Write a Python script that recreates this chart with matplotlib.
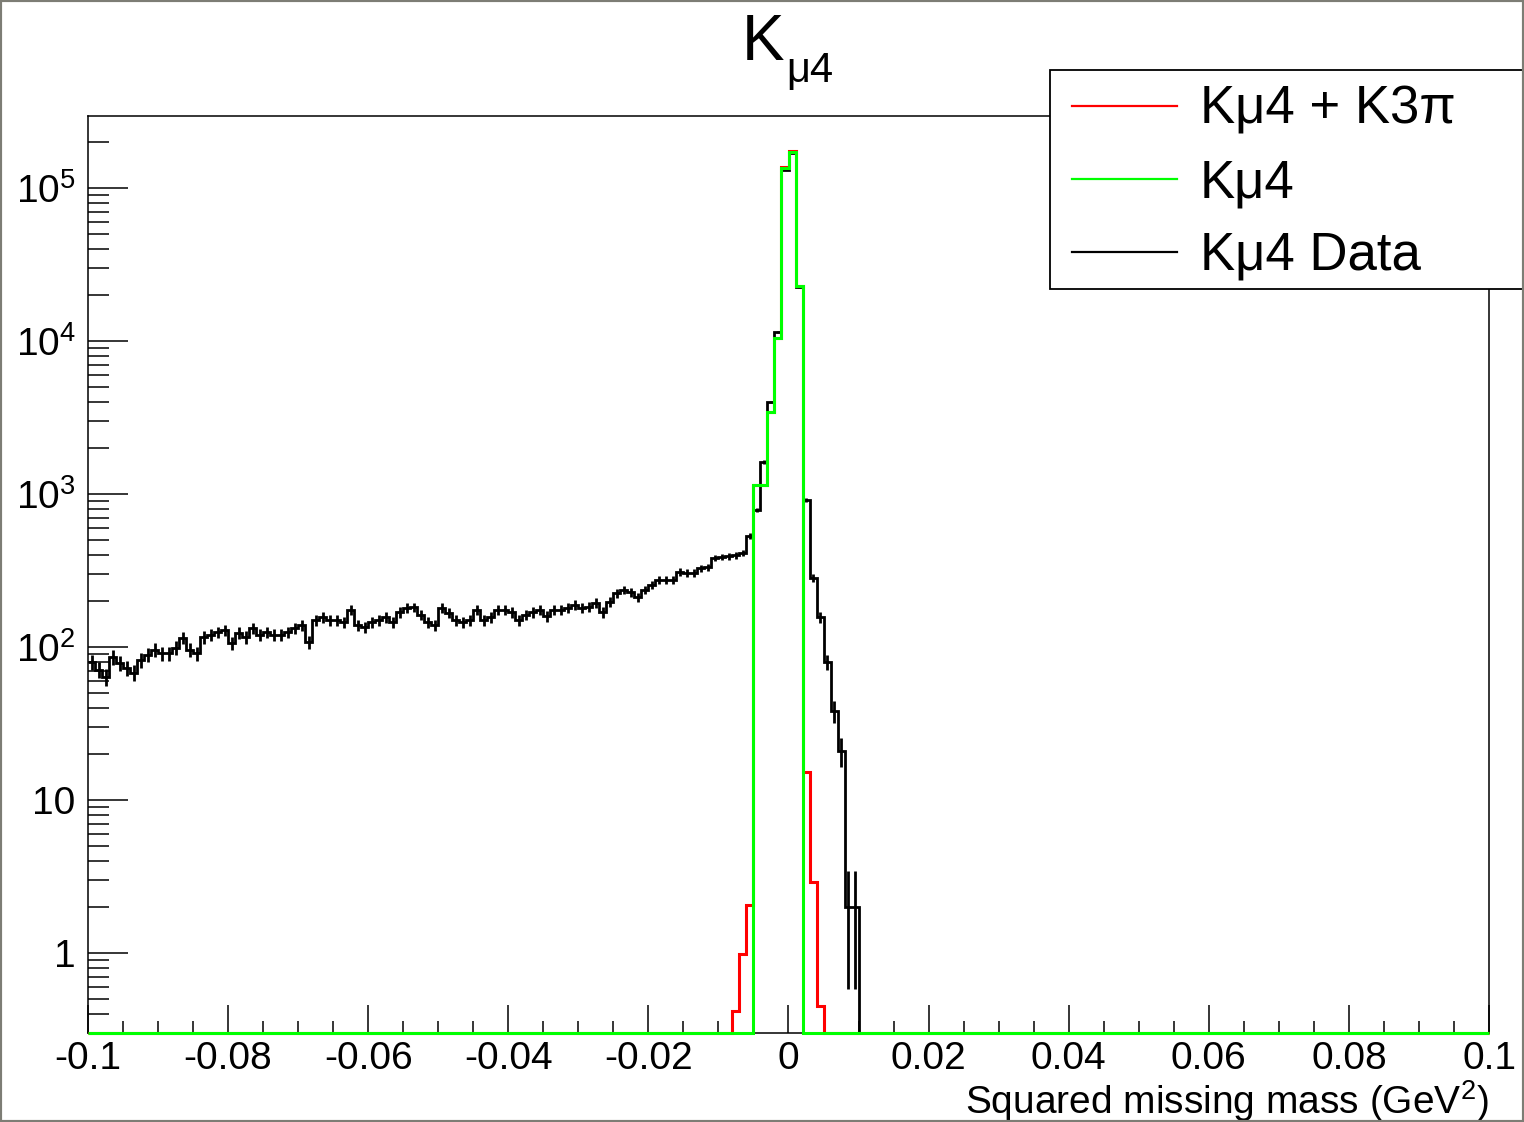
import numpy as np
import matplotlib
matplotlib.use("Agg")
from matplotlib import pyplot as plt
from matplotlib.patches import Rectangle
from matplotlib.lines import Line2D
from matplotlib.ticker import (FixedLocator, FixedFormatter, LogLocator,
                               NullFormatter, MultipleLocator, FuncFormatter)

plt.rcParams["font.family"] = ["Liberation Sans", "DejaVu Sans"]
plt.rcParams["mathtext.fontset"] = "custom"
plt.rcParams["mathtext.rm"] = "Liberation Sans"
plt.rcParams["mathtext.it"] = "Liberation Sans:italic"

# histogram binning: 200 bins of 0.001 GeV^2
X_MIN, X_MAX, N_BINS = -0.1, 0.1, 200
Y_MIN, Y_MAX = 0.3, 2.96e5

# data counts, first bin starts at -0.1
data_start = -0.1
data_counts = [
    80, 71, 64, 86, 79, 73, 68, 82, 89, 96,
    91, 91, 99, 115, 96, 91, 116, 120, 125, 129,
    106, 124, 116, 133, 120, 125, 120, 120, 125, 133,
    139, 108, 150, 157, 150, 150, 146, 175, 139, 135,
    146, 150, 157, 146, 169, 180, 182, 162, 146, 139,
    180, 167, 150, 146, 150, 175, 150, 157, 175, 175,
    169, 150, 162, 169, 175, 159, 175, 175, 180, 188,
    180, 183, 194, 169, 197, 225, 236, 229, 212, 236,
    254, 274, 274, 274, 309, 305, 305, 328, 333, 382,
    388, 393, 399, 411, 531, 786, 1620, 3990, 11450, 131000,
    169000, 22500, 914, 282, 157, 80, 38, 21, 2, 2,
]

# MC histograms, first bin starts at -0.008
mc_start = -0.008
kmu4_k3pi = [0.42, 0.98, 2.05, 1150, 1150, 3440, 10500, 137000, 175000,
             22800, 15.2, 2.9, 0.45]
kmu4 = [0, 0, 0, 1150, 1150, 3440, 10500, 135000, 172000, 22800, 0, 0, 0]

legend_labels = ["Kμ4 + K3π", "Kμ4", "Kμ4 Data"]

y_ticks = [1, 10, 1e2, 1e3, 1e4, 1e5]
y_tick_labels = ["1", "10", r"$\mathregular{10^{2}}$", r"$\mathregular{10^{3}}$",
                 r"$\mathregular{10^{4}}$", r"$\mathregular{10^{5}}$"]

edges = np.linspace(X_MIN, X_MAX, N_BINS + 1)
bin_w = (X_MAX - X_MIN) / N_BINS
centers = 0.5 * (edges[:-1] + edges[1:])


def full_hist(values, start):
    arr = np.zeros(N_BINS)
    i0 = int(round((start - X_MIN) / bin_w))
    arr[i0:i0 + len(values)] = values
    return arr


data = full_hist(data_counts, data_start)
h_red = full_hist(kmu4_k3pi, mc_start)
h_green = full_hist(kmu4, mc_start)


def floor(v):
    # empty bins are drawn on the lower frame edge, like ROOT does
    return np.where(v > 0, v, Y_MIN)


def x_label_fmt(v, pos):
    v = round(v, 3) + 0.0
    return "0" if v == 0 else "%g" % v


W, H = 1524, 1122
fig = plt.figure(figsize=(W / 100, H / 100), dpi=100)
ax = fig.add_axes([88 / W, 1 - 1033 / H, (1489 - 88) / W, (1033 - 116) / H])

ax.stairs(floor(data), edges, baseline=None, color="black", lw=2.0, zorder=2)
nz = data > 0
ax.errorbar(centers[nz], data[nz], yerr=np.sqrt(data[nz]), fmt="none",
            ecolor="black", elinewidth=2.0, capsize=0, zorder=2)
ax.stairs(floor(h_red), edges, baseline=None, color="#ff0000", lw=2.2,
          zorder=3, clip_on=False)
ax.stairs(floor(h_green), edges, baseline=None, color="#00ff00", lw=2.2,
          zorder=4, clip_on=False)

ax.set_yscale("log")
ax.set_xlim(X_MIN, X_MAX)
ax.set_ylim(Y_MIN, Y_MAX)

ax.yaxis.set_major_locator(FixedLocator(y_ticks))
ax.yaxis.set_major_formatter(FixedFormatter(y_tick_labels))
ax.yaxis.set_minor_locator(LogLocator(base=10, subs=np.arange(2, 10)))
ax.yaxis.set_minor_formatter(NullFormatter())

ax.xaxis.set_major_locator(MultipleLocator(0.02))
ax.xaxis.set_minor_locator(MultipleLocator(0.005))
ax.xaxis.set_major_formatter(FuncFormatter(x_label_fmt))

ax.tick_params(axis="both", which="both", direction="in", width=1.1,
               top=False, right=False)
ax.tick_params(axis="y", which="major", length=29, pad=9, labelsize=28)
ax.tick_params(axis="y", which="minor", length=15)
ax.tick_params(axis="x", which="major", length=20, pad=6, labelsize=28)
ax.tick_params(axis="x", which="minor", length=8.6)
for s in ax.spines.values():
    s.set_linewidth(1.1)

# axis title sits right-aligned under the tick labels
fig.text(1489 / W, 1 - 1114 / H, r"Squared missing mass (GeV$\mathregular{^{2}}$)",
         fontsize=28, ha="right", va="baseline")

# title K with a low subscript, as ROOT draws it
fig.text(784 / W, 1 - 60 / H, "K", ha="right", va="baseline", fontsize=46)
fig.text(786 / W, 1 - 82 / H, "μ4", ha="left", va="baseline", fontsize=30)

# legend box, runs past the right canvas edge as in the original
fig.patches.append(Rectangle((1050 / W, 1 - 289 / H), (W + 20 - 1050) / W,
                             (289 - 70) / H, transform=fig.transFigure,
                             facecolor="white", edgecolor="black", lw=1.3,
                             zorder=5, clip_on=False))
for label, color, base in zip(legend_labels, ["#ff0000", "#00ff00", "black"],
                              [124, 197, 270]):
    yl = 1 - (base - 18) / H
    fig.lines.append(Line2D([1072 / W, 1177 / W], [yl, yl], color=color,
                            lw=1.6, transform=fig.transFigure, zorder=6))
    fig.text(1200 / W, 1 - base / H, label, fontsize=38, va="baseline",
             ha="left", zorder=6)

fig.patches.append(Rectangle((0, 0), 1, 1, transform=fig.transFigure,
                             fill=False, edgecolor="#7d7d75", lw=3, zorder=7))

fig.savefig("out.png", dpi=100)
